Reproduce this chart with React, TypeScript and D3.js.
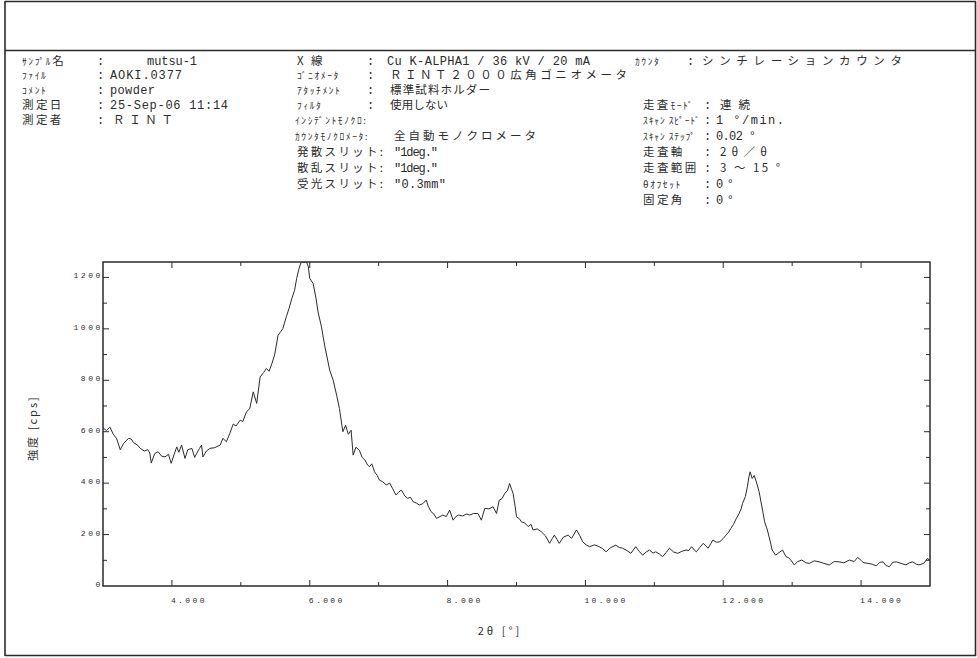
import React from "react";
import * as d3 from "d3";

// ---------- data ----------
const twoTheta: number[] = [
  3.0, 3.05, 3.1, 3.15, 3.2, 3.25, 3.3, 3.37, 3.41, 3.44, 3.5, 3.54, 3.6, 3.65, 3.68, 3.7, 3.75, 3.8, 3.85, 3.9,
  3.95, 3.99, 4.03, 4.07, 4.1, 4.14, 4.19, 4.23, 4.29, 4.33, 4.36, 4.4, 4.43, 4.45, 4.5, 4.55, 4.62, 4.7, 4.74, 4.79,
  4.84, 4.89, 4.93, 4.99, 5.03, 5.08, 5.13, 5.18, 5.23, 5.28, 5.33, 5.37, 5.41, 5.45, 5.49, 5.54, 5.58, 5.61, 5.66, 5.7,
  5.74, 5.78, 5.81, 5.84, 5.86, 5.88, 5.92, 5.95, 5.98, 6.0, 6.05, 6.09, 6.12, 6.17, 6.22, 6.29, 6.34, 6.39, 6.43, 6.48,
  6.52, 6.56, 6.6, 6.63, 6.67, 6.72, 6.76, 6.8, 6.84, 6.87, 6.9, 6.94, 6.98, 7.01, 7.06, 7.11, 7.16, 7.2, 7.25, 7.29,
  7.33, 7.38, 7.42, 7.46, 7.5, 7.55, 7.59, 7.64, 7.69, 7.72, 7.76, 7.8, 7.84, 7.89, 7.93, 7.98, 8.03, 8.08, 8.12, 8.16,
  8.22, 8.27, 8.32, 8.38, 8.44, 8.49, 8.54, 8.6, 8.66, 8.71, 8.75, 8.79, 8.83, 8.87, 8.9, 8.93, 8.95, 8.98, 9.0, 9.04,
  9.07, 9.12, 9.17, 9.21, 9.24, 9.3, 9.36, 9.42, 9.48, 9.52, 9.55, 9.59, 9.62, 9.68, 9.75, 9.8, 9.87, 9.92, 9.96, 10.01,
  10.06, 10.13, 10.2, 10.25, 10.3, 10.36, 10.44, 10.49, 10.54, 10.59, 10.66, 10.73, 10.78, 10.83, 10.88, 10.93, 10.98, 11.02, 11.07, 11.12,
  11.17, 11.22, 11.28, 11.34, 11.4, 11.46, 11.5, 11.54, 11.58, 11.61, 11.66, 11.71, 11.75, 11.78, 11.82, 11.85, 11.9, 11.95, 12.0, 12.04,
  12.08, 12.11, 12.15, 12.19, 12.23, 12.26, 12.28, 12.32, 12.35, 12.37, 12.39, 12.42, 12.45, 12.48, 12.52, 12.57, 12.6, 12.64, 12.68, 12.71,
  12.76, 12.81, 12.86, 12.91, 12.95, 12.98, 13.03, 13.08, 13.14, 13.2, 13.25, 13.32, 13.39, 13.46, 13.54, 13.61, 13.68, 13.75, 13.83, 13.9,
  13.95, 14.0, 14.03, 14.1, 14.16, 14.22, 14.27, 14.32, 14.36, 14.41, 14.46, 14.51, 14.58, 14.65, 14.7, 14.75, 14.8, 14.84, 14.91, 14.96,
  15.0,
];
const intensity: number[] = [
  615, 605, 618, 590, 572, 530, 555, 574, 572, 558, 548, 535, 525, 530, 517, 478, 515, 522, 505, 502,
  512, 477, 510, 541, 520, 548, 496, 530, 535, 500, 516, 535, 548, 502, 525, 535, 538, 548, 574, 561,
  593, 630, 622, 645, 640, 677, 690, 755, 710, 813, 830, 846, 835, 865, 898, 975, 990, 1001, 1047, 1080,
  1118, 1150, 1196, 1230, 1248, 1262, 1258, 1262, 1241, 1196, 1176, 1120, 1066, 1008, 930, 839, 800, 742, 691, 600,
  625, 590, 606, 509, 540, 528, 500, 490, 470, 464, 475, 444, 430, 412, 405, 393, 400, 380, 354, 365,
  373, 350, 341, 345, 328, 322, 315, 320, 334, 310, 289, 280, 263, 270, 276, 270, 295, 256, 270, 276,
  272, 280, 276, 282, 282, 256, 302, 300, 308, 282, 334, 340, 360, 372, 399, 375, 360, 310, 269, 262,
  250, 245, 231, 240, 218, 222, 211, 195, 166, 185, 198, 180, 166, 190, 198, 185, 218, 195, 172, 160,
  153, 160, 153, 145, 133, 148, 159, 150, 147, 140, 127, 153, 135, 120, 132, 140, 128, 133, 125, 114,
  130, 147, 132, 127, 135, 140, 138, 153, 140, 133, 150, 166, 155, 147, 165, 179, 170, 172, 185, 198,
  210, 224, 240, 263, 282, 300, 321, 347, 386, 420, 444, 418, 430, 405, 367, 295, 250, 218, 175, 140,
  120, 130, 140, 114, 110, 101, 82, 95, 101, 90, 88, 98, 94, 88, 82, 95, 94, 90, 101, 95,
  111, 100, 91, 88, 85, 78, 92, 94, 80, 75, 92, 94, 88, 82, 90, 94, 85, 82, 88, 107,
  100,
];

const xDomain = [3, 15];
const yDomain = [0, 1260];
const xMinorTicks = [4, 5, 6, 7, 8, 9, 10, 11, 12, 13, 14];
const xTickLabels = ["4.000", "6.000", "8.000", "10.000", "12.000", "14.000"];
const xTickLabelValues = [4, 6, 8, 10, 12, 14];
const yMinorTicks = [100, 200, 300, 400, 500, 600, 700, 800, 900, 1000, 1100, 1200];
const yTickLabelValues = [0, 200, 400, 600, 800, 1000, 1200];
const yTickLabels = ["0", "200", "400", "600", "800", "1000", "1200"];
const xTitle = "2θ [°]";
const yTitle = "強度 [cps]";

// header text
const leftLabels = ["ｻﾝﾌﾟﾙ名", "ﾌｧｲﾙ", "ｺﾒﾝﾄ", "測定日", "測定者"];
const leftValues = ["mutsu-1", "AOKI.0377", "powder", "25-Sep-06 11:14", "ＲＩＮＴ"];
const midLabels = ["X 線", "ｺﾞﾆｵﾒｰﾀ", "ｱﾀｯﾁﾒﾝﾄ", "ﾌｨﾙﾀ"];
const midValues = ["Cu K-ALPHA1 / 36 kV / 20 mA", "ＲＩＮＴ２０００広角ゴニオメータ", "標準試料ホルダー", "使用しない"];
const midLabels2 = ["ｲﾝｼﾃﾞﾝﾄﾓﾉｸﾛ:", "ｶｳﾝﾀﾓﾉｸﾛﾒｰﾀ:", "発散スリット:", "散乱スリット:", "受光スリット:"];
const midValues2 = ["", "全自動モノクロメータ", "\"1deg.\"", "\"1deg.\"", "\"0.3mm\""];
const counterLabel = "ｶｳﾝﾀ";
const counterValue = "シンチレーションカウンタ";
const rightLabels = ["走査ﾓｰﾄﾞ", "ｽｷｬﾝ ｽﾋﾟｰﾄﾞ", "ｽｷｬﾝ ｽﾃｯﾌﾟ", "走査軸", "走査範囲", "θｵﾌｾｯﾄ", "固定角"];
const rightValues = ["連 続", "1 °/min.", "0.02 °", "2θ／θ", "3 ～ 15 °", "0 °", "0 °"];

// ---------- layout ----------
const W = 977;
const H = 658;
const plot = { left: 103, right: 930, top: 262, bottom: 586 };
const rowY = [61, 75, 90, 105, 120, 136, 152, 168, 184, 200];
const INK = "#2b2b2b";
const MONO = "'Liberation Mono', 'DejaVu Sans Mono', 'Noto Sans CJK JP', monospace";
const JP = "'Noto Sans CJK JP', sans-serif";

const isKanaOnly = (s: string) => /^[\uFF61-\uFF9F ]+:?$/.test(s);

// label: halfwidth-kana labels are small and spaced; kanji labels larger
function Label({ x, y, text, kanaSpacing = 1.6 }: { x: number; y: number; text: string; kanaSpacing?: number }) {
  const hasKana = /[\uFF61-\uFF9F]/.test(text);
  const hasKanji = /[\u4E00-\u9FFF]/.test(text);
  if (hasKana && !isKanaOnly(text) && hasKanji) {
    const parts = text.match(/[\uFF61-\uFF9F ]+|[^\uFF61-\uFF9F ]+/g) || [text];
    return (
      <text x={x} y={y + 4} fill={INK} fontFamily={JP}>
        {parts.map((p, i) =>
          /[\uFF61-\uFF9F]/.test(p) ? (
            <tspan key={i} fontSize={9.5} letterSpacing={kanaSpacing}>
              {p}
            </tspan>
          ) : (
            <tspan key={i} fontSize={11.5} letterSpacing={2.2}>
              {p}
            </tspan>
          )
        )}
      </text>
    );
  }
  if (hasKana) {
    return (
      <text x={x} y={y + 4} fontFamily={JP} fontSize={9.5} letterSpacing={kanaSpacing} fill={INK}>
        {text}
      </text>
    );
  }
  return (
    <text x={x} y={y + 4} fontFamily={JP} fontSize={11.5} letterSpacing={2.4} fill={INK}>
      {text}
    </text>
  );
}

function Val({ x, y, text, len, jp }: { x: number; y: number; text: string; len?: number; jp?: boolean }) {
  return (
    <text
      x={x}
      y={y + 4}
      fontFamily={jp ? JP : MONO}
      fontSize={jp ? 11.5 : 12}
      fill={INK}
      textLength={len}
      lengthAdjust={len ? "spacing" : undefined}
    >
      {text}
    </text>
  );
}

export default function App() {
  const x = d3.scaleLinear().domain(xDomain).range([plot.left, plot.right]);
  const y = d3.scaleLinear().domain(yDomain).range([plot.bottom, plot.top]);
  const pts = twoTheta.map((t, i) => [t, intensity[i]] as [number, number]);
  const line = d3
    .line<[number, number]>()
    .x((d) => x(d[0]))
    .y((d) => y(d[1]));

  const leftLen = [50, 72, 45, 118, 60];
  const midLen = [203, 237, 100, 58];
  const midLen2 = [0, 142, 44, 44, 52];
  const rightLen = [30, 68, 40, 47, 60, 18, 18];

  return (
    <svg
      width={W}
      height={H}
      style={{ position: "absolute", left: 0, top: 0, background: "#fff" }}
      xmlns="http://www.w3.org/2000/svg"
    >
      <rect x={0} y={0} width={W} height={H} fill="#fff" />
      {/* outer frame */}
      <g stroke={INK} strokeWidth={1.6} fill="none">
        <line x1={5} y1={1} x2={5} y2={656} />
        <line x1={5} y1={1.5} x2={976} y2={1.5} />
        <line x1={5} y1={50.5} x2={976} y2={50.5} />
        <line x1={5} y1={655.5} x2={976} y2={655.5} />
        <line x1={975.5} y1={1} x2={975.5} y2={656} />
      </g>

      {/* header: left block */}
      {leftLabels.map((l, i) => (
        <g key={"l" + i}>
          <Label x={22} y={rowY[i]} text={l} />
          <Val x={97} y={rowY[i]} text=":" />
          <Val
            x={i === 0 ? 147 : i === 4 ? 113 : 110}
            y={rowY[i]}
            text={leftValues[i]}
            len={leftLen[i]}
            jp={i === 4}
          />
        </g>
      ))}

      {/* header: middle block */}
      {midLabels.map((l, i) => (
        <g key={"m" + i}>
          <Label x={297} y={rowY[i]} text={l} />
          <Val x={367} y={rowY[i]} text=":" />
          <Val x={i === 0 ? 387 : 390} y={rowY[i]} text={midValues[i]} len={midLen[i]} jp={i > 0} />
        </g>
      ))}
      {midLabels2.map((l, i) => (
        <g key={"m2" + i}>
          {isKanaOnly(l) ? (
            <Label x={295} y={rowY[i + 4]} text={l} />
          ) : (
            <text
              x={297}
              y={rowY[i + 4] + 4}
              fontFamily={JP}
              fontSize={11.5}
              fill={INK}
              textLength={86}
              lengthAdjust="spacing"
            >
              {l}
            </text>
          )}
          {midValues2[i] && (
            <Val x={394} y={rowY[i + 4]} text={midValues2[i]} len={midLen2[i]} jp={i === 1} />
          )}
        </g>
      ))}

      {/* header: right block */}
      <Label x={635} y={rowY[0]} text={counterLabel} />
      <Val x={687} y={rowY[0]} text=":" />
      <Val x={702} y={rowY[0]} text={counterValue} len={200} jp />
      {rightLabels.map((l, i) => (
        <g key={"r" + i}>
          <Label x={643} y={rowY[i + 3]} text={l} kanaSpacing={i === 1 || i === 2 ? 0.9 : 1.6} />
          <Val x={704} y={rowY[i + 3]} text=":" />
          <Val
            x={i === 0 || i === 3 || i === 4 ? 720 : 716}
            y={rowY[i + 3]}
            text={rightValues[i]}
            len={rightLen[i]}
            jp={i === 0 || i === 3 || i === 4}
          />
        </g>
      ))}

      {/* plot frame */}
      <defs>
        <clipPath id="plotClip">
          <rect x={plot.left} y={plot.top} width={plot.right - plot.left} height={plot.bottom - plot.top} />
        </clipPath>
      </defs>
      <rect
        x={plot.left}
        y={plot.top}
        width={plot.right - plot.left}
        height={plot.bottom - plot.top}
        fill="none"
        stroke={INK}
        strokeWidth={1.5}
      />

      {/* ticks */}
      <g stroke={INK} strokeWidth={1}>
        {xMinorTicks.map((t) => {
          const major = t % 2 === 0;
          const len = major ? 6 : 4;
          return (
            <g key={"xt" + t}>
              <line x1={x(t)} x2={x(t)} y1={plot.bottom} y2={plot.bottom - len} />
              <line x1={x(t)} x2={x(t)} y1={plot.top} y2={plot.top + len} />
            </g>
          );
        })}
        {yMinorTicks.map((t) => {
          const major = t % 200 === 0;
          const len = major ? 6 : 4;
          return (
            <g key={"yt" + t}>
              <line x1={plot.left} x2={plot.left + len} y1={y(t)} y2={y(t)} />
              <line x1={plot.right} x2={plot.right - len} y1={y(t)} y2={y(t)} />
            </g>
          );
        })}
      </g>

      {/* tick labels */}
      <g fontFamily={MONO} fontSize={8} fill={INK}>
        {xTickLabelValues.map((v, i) => (
          <text key={"xl" + v} x={x(v) - 1} y={plot.bottom + 17} letterSpacing={2.4}>
            {xTickLabels[i]}
          </text>
        ))}
        {yTickLabelValues.map((v, i) => (
          <text key={"yl" + v} x={plot.left} y={y(v) + 1} textAnchor="end" letterSpacing={2.6}>
            {yTickLabels[i]}
          </text>
        ))}
      </g>

      {/* data line */}
      <path
        d={line(pts) || ""}
        fill="none"
        stroke={INK}
        strokeWidth={1}
        strokeLinejoin="round"
        clipPath="url(#plotClip)"
      />

      {/* axis titles */}
      <text
        x={0}
        y={0}
        transform={`translate(37, 428) rotate(-90)`}
        textAnchor="middle"
        fontFamily={JP}
        fontSize={11}
        fill={INK}
        letterSpacing={2}
      >
        {yTitle}
      </text>
      <text x={500} y={635} textAnchor="middle" fontFamily={JP} fontSize={11} fill={INK} letterSpacing={3}>
        {xTitle}
      </text>
    </svg>
  );
}
